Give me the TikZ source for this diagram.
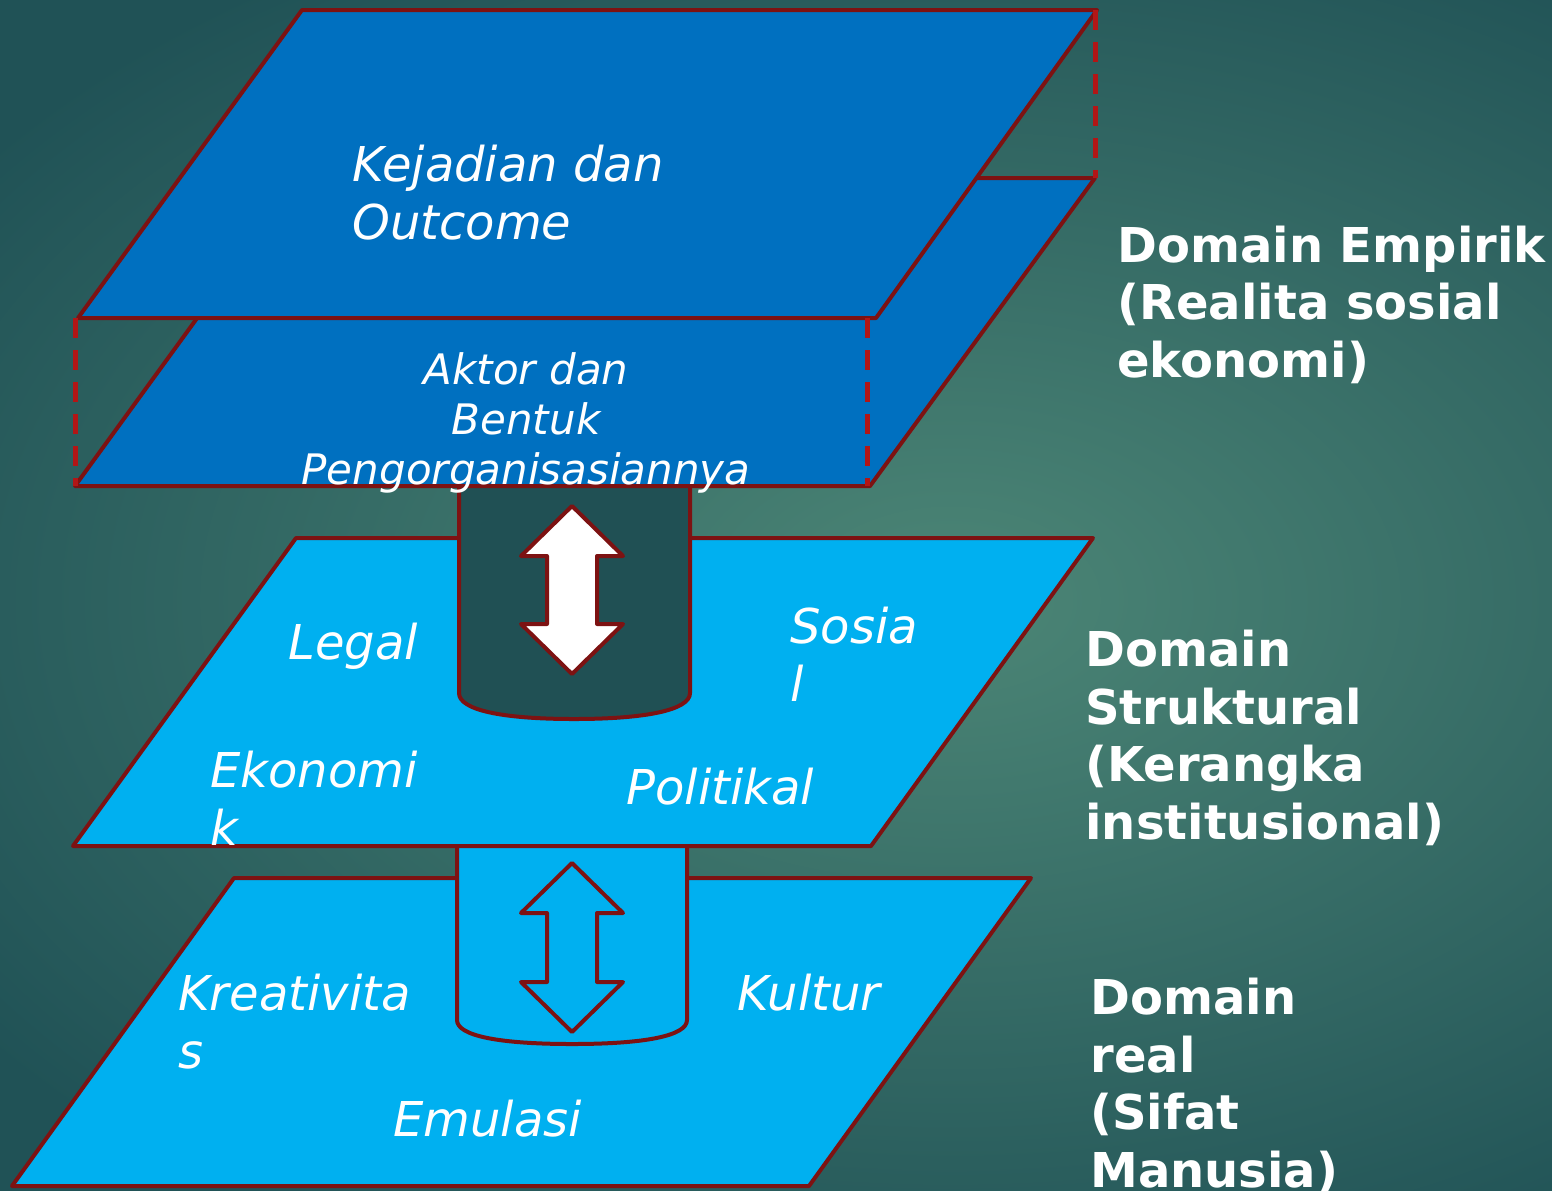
\documentclass[tikz,border=0pt]{standalone}
\usepackage{fontspec}
\setmainfont{DejaVu Sans}

\definecolor{bgin}{RGB}{76,134,118}
\definecolor{bgout}{RGB}{32,82,86}
\definecolor{edgered}{RGB}{125,18,18}
\definecolor{dashred}{RGB}{178,22,22}
\definecolor{deepblue}{RGB}{0,112,192}
\definecolor{skyblue}{RGB}{0,176,240}
\definecolor{cylfill}{RGB}{32,80,84}

\begin{document}
\begin{tikzpicture}[x=0.5pt, y=-0.5pt,
    layer/.style={draw=edgered, line width=2pt, line join=round},
    guide/.style={draw=dashred, line width=2.5pt, dash pattern=on 10pt off 6pt},
    lbl/.style={text=white, font=\fontsize{24}{28.75}\selectfont\itshape, anchor=base west, align=left, inner sep=0pt},
    dom/.style={text=white, font=\fontsize{24}{28.75}\selectfont\bfseries, anchor=base west, align=left, inner sep=0pt}]
    \useasboundingbox (0,0) rectangle (1552,1190);

    % Background
    \begin{scope}
        \clip (0,0) rectangle (1552,1190);
        \shade[inner color=bgin, outer color=bgout] (-250,-150) rectangle (2150,1350);
    \end{scope}

    % Bottom layer (real)
    \draw[layer, fill=skyblue] (234,878) -- (1031,878) -- (809,1186) -- (12,1186) -- cycle;
    \draw[layer, fill=skyblue] (457,846) -- (457,1020) .. controls (457,1036) and (500,1044) .. (572,1044)
        .. controls (644,1044) and (687,1036) .. (687,1020) -- (687,846);
    \draw[layer, fill=skyblue] (572,863) -- (623,913) -- (597,913) -- (597,982) -- (623,982) -- (572,1032)
        -- (521,982) -- (547,982) -- (547,913) -- (521,913) -- cycle;

    % Middle layer (struktural)
    \draw[layer, fill=skyblue] (296,538) -- (1093,538) -- (871,846) -- (73,846) -- cycle;
    \draw[layer, fill=cylfill] (459,486) -- (459,693) .. controls (459,710) and (502,719) .. (574,719)
        .. controls (646,719) and (690,710) .. (690,693) -- (690,486);
    \draw[layer, fill=white] (572,506) -- (623,556) -- (597,556) -- (597,624) -- (623,624) -- (572,674)
        -- (521,624) -- (547,624) -- (547,556) -- (521,556) -- cycle;

    % Top layers (empirik)
    \draw[layer, fill=deepblue] (299,178) -- (1095,178) -- (870,486) -- (75,486) -- cycle;
    \draw[layer, fill=deepblue] (302,10) -- (1097,10) -- (876,318) -- (78,318) -- cycle;
    \draw[guide] (1095,10) -- (1095,178);
    \draw[guide] (75,318) -- (75,486);
    \draw[guide] (867,318) -- (867,486);

    % Labels on layers (base = last line)
    \node[lbl] (outcome) at (352,239) {Kejadian dan\\Outcome};
    \node[lbl, anchor=base, align=center, font=\fontsize{21}{25}\selectfont\itshape] (aktor) at (526,484)
        {Aktor dan\\Bentuk\\Pengorganisasiannya};
    \node[lbl] (legal) at (288,659) {Legal};
    \node[lbl] (sosial) at (790,701) {Sosia\\l};
    \node[lbl] (ekonomi) at (210,845) {Ekonomi\\k};
    \node[lbl] (politik) at (626,804) {Politikal};
    \node[lbl] (kreatif) at (178,1068) {Kreativita\\s};
    \node[lbl] (kultur) at (737,1010) {Kultur};
    \node[lbl] (emulasi) at (393,1136) {Emulasi};

    % Domain names
    \node[dom] (empirik) at (1117,377) {Domain Empirik\\(Realita sosial\\ekonomi)};
    \node[dom] (struktur) at (1085,839) {Domain\\Struktural\\(Kerangka\\institusional)};
    \node[dom] (real) at (1090,1187) {Domain\\real\\(Sifat\\Manusia)};
\end{tikzpicture}
\end{document}
